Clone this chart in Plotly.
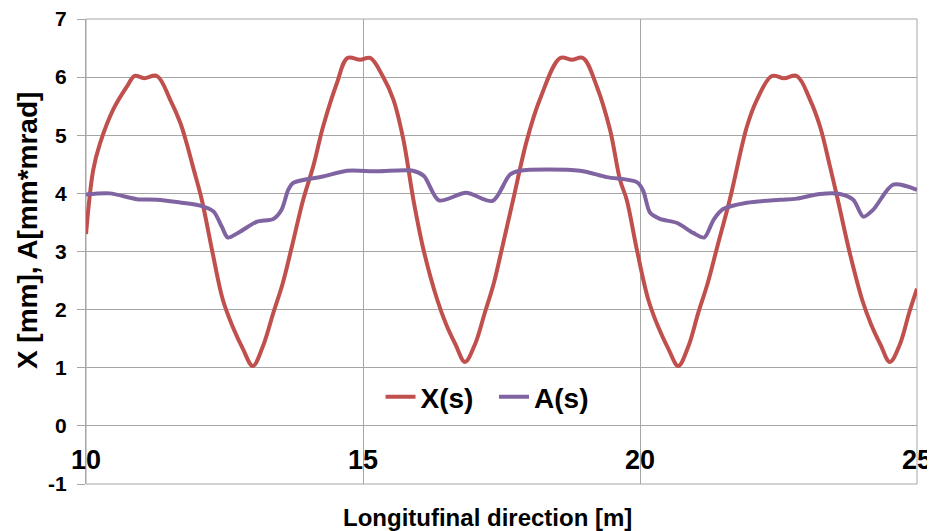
import plotly.graph_objects as go

# X(s) beam envelope [mm]
xs_s = [10.00, 10.13, 10.25, 10.49, 10.74, 10.88, 11.05, 11.28, 11.52, 11.70, 11.82, 11.93,
        12.09, 12.28, 12.47, 12.65, 12.83, 13.01, 13.19, 13.38, 13.55, 13.72, 13.92, 14.10,
        14.28, 14.53, 14.72, 14.95, 15.13, 15.36, 15.55, 15.73, 15.91, 16.10, 16.34, 16.50,
        16.67, 16.84, 17.02, 17.20, 17.36, 17.52, 17.71, 17.96, 18.19, 18.56, 18.77, 18.97,
        19.22, 19.46, 19.64, 19.76, 19.95, 20.15, 20.33, 20.51, 20.69, 20.87, 21.05, 21.22,
        21.40, 21.62, 21.93, 22.11, 22.38, 22.60, 22.83, 23.07, 23.25, 23.43, 23.57, 23.78,
        24.01, 24.17, 24.34, 24.51, 24.69, 24.86, 25.00]
xs_v = [3.30, 4.40, 4.85, 5.44, 5.84, 6.02, 5.98, 6.02, 5.61, 5.22, 4.85, 4.46,
        3.89, 3.00, 2.17, 1.70, 1.33, 1.03, 1.36, 1.94, 2.45, 3.10, 3.89, 4.46,
        5.15, 5.90, 6.33, 6.30, 6.33, 6.01, 5.61, 4.92, 3.89, 3.00, 2.17, 1.75,
        1.40, 1.10, 1.40, 1.95, 2.45, 3.10, 3.89, 4.92, 5.61, 6.33, 6.30, 6.33,
        5.84, 5.09, 4.23, 3.89, 3.00, 2.17, 1.70, 1.33, 1.03, 1.36, 1.94, 2.45,
        3.10, 3.89, 5.15, 5.61, 6.02, 5.98, 6.02, 5.61, 5.15, 4.46, 3.89, 3.00,
        2.17, 1.75, 1.40, 1.10, 1.40, 1.95, 2.36]

# A(s) emittance-like amplitude [mm*mrad]
as_s = [10.00, 10.43, 10.92, 11.28, 11.64, 12.06, 12.30, 12.45, 12.56, 12.78, 13.08, 13.38,
        13.53, 13.65, 13.74, 14.28, 14.71, 15.25, 15.90, 16.10, 16.37, 16.86, 17.34, 17.65,
        17.83, 18.92, 19.40, 19.95, 20.06, 20.18, 20.36, 20.67, 20.96, 21.16, 21.33, 21.50,
        21.93, 22.53, 22.83, 23.25, 23.61, 23.85, 24.03, 24.21, 24.57, 25.00]
as_v = [3.98, 4.00, 3.90, 3.89, 3.85, 3.79, 3.69, 3.43, 3.24, 3.34, 3.51, 3.56,
        3.72, 4.06, 4.18, 4.29, 4.39, 4.38, 4.39, 4.30, 3.88, 4.01, 3.87, 4.32,
        4.39, 4.39, 4.28, 4.19, 4.04, 3.67, 3.56, 3.49, 3.32, 3.24, 3.55, 3.73,
        3.84, 3.89, 3.91, 3.99, 3.99, 3.89, 3.60, 3.72, 4.15, 4.06]

x_ticks = [10, 15, 20, 25]
y_ticks = [-1, 0, 1, 2, 3, 4, 5, 6, 7]

FONT = "Liberation Sans, Arial, sans-serif"
GRID = "#a6a6a6"

fig = go.Figure()
fig.add_trace(go.Scatter(x=xs_s, y=xs_v, mode="lines", name="<b>X(s)</b>\u00a0\u00a0",
                         line=dict(color="#C0504D", width=4, shape="spline", smoothing=1.0)))
fig.add_trace(go.Scatter(x=as_s, y=as_v, mode="lines", name="<b>A(s)</b>",
                         line=dict(color="#8064A2", width=4, shape="spline", smoothing=0.8)))

# The page body has an 8px margin, so the figure is sized to fit the window.
fig.update_layout(
    width=927, height=523,
    margin=dict(l=78, r=18, t=11, b=47, autoexpand=False),
    paper_bgcolor="white", plot_bgcolor="white",
    font=dict(family=FONT, color="black"),
    showlegend=True,
    legend=dict(orientation="h", x=0.4826, y=0.187, xanchor="center", yanchor="middle",
                font=dict(family=FONT, size=28, color="black"),
                bgcolor="rgba(0,0,0,0)", itemwidth=30, tracegroupgap=0),
    xaxis=dict(range=[10, 25], tickvals=x_ticks, ticktext=[f"<b>{v}</b>" for v in x_ticks],
               showgrid=True, gridcolor=GRID, gridwidth=1, zeroline=False,
               showline=False, ticks="", anchor="free", position=0.125, automargin=False,
               tickfont=dict(family=FONT, size=27, color="black"),
               ticklabelstandoff=15, ticklabeloverflow="allow"),
    yaxis=dict(range=[-1, 7], tickvals=y_ticks, ticktext=[f"<b>{v}</b>" for v in y_ticks],
               showgrid=True, gridcolor=GRID, gridwidth=1, zeroline=False,
               showline=True, linecolor=GRID, linewidth=1, automargin=False,
               ticks="outside", ticklen=8, tickcolor=GRID,
               tickfont=dict(family=FONT, size=21, color="black"),
               ticklabelstandoff=6, ticklabeloverflow="allow"),
    annotations=[
        dict(text="<b>X [mm], A[mm*mrad]</b>", xref="paper", yref="paper",
             x=-0.071, y=0.546, xanchor="center", yanchor="middle", textangle=-90,
             showarrow=False, font=dict(family=FONT, size=28, color="black")),
        dict(text="<b>Longitufinal direction [m]</b>", xref="paper", yref="paper",
             x=0.4826, y=-0.071, xanchor="center", yanchor="middle",
             showarrow=False, font=dict(family=FONT, size=24, color="black")),
    ],
)
fig.add_shape(type="rect", xref="paper", yref="paper", x0=0, y0=0, x1=1, y1=1,
              line=dict(color=GRID, width=1), layer="below")

fig.write_html("out.html")
